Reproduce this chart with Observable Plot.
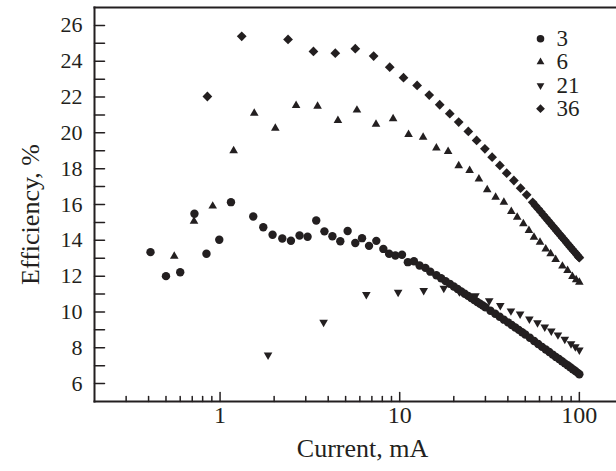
<!DOCTYPE html>
<html>
<head>
<meta charset="utf-8">
<script src="https://cdn.jsdelivr.net/npm/d3@7"></script>
<script src="https://cdn.jsdelivr.net/npm/@observablehq/plot@0.6"></script>
<style>
  html, body { margin: 0; padding: 0; background: #fff; }
  #chart { width: 616px; height: 471px; overflow: hidden; }
</style>
</head>
<body>
<div id="chart"></div>
<script>
// ---- data ----
const seriesNames = ["3", "6", "21", "36"];

const current3 = [0.41, 0.50, 0.60, 0.72, 0.84, 0.99, 1.15, 1.53, 1.74, 1.96, 2.22, 2.48, 2.77, 3.07, 3.43, 3.81, 4.22, 4.67, 5.13, 5.66, 6.17, 6.75, 7.41, 8.11, 8.73, 9.46, 10.3, 11.1, 12.0, 12.9, 13.9, 14.8, 16, 17, 18, 19, 20, 21, 22, 23, 24, 25, 26, 27, 28, 29, 30, 32, 34, 36, 38, 40, 42, 44, 46, 48, 50, 53, 56, 59, 62, 65, 68, 71, 74, 77, 80, 83, 86, 89, 92, 95, 98, 100];
const eff3 = [13.34, 12.0, 12.22, 15.48, 13.25, 14.03, 16.13, 15.33, 14.73, 14.31, 14.10, 13.98, 14.27, 14.20, 15.11, 14.50, 14.23, 13.95, 14.52, 13.85, 14.12, 13.69, 13.97, 13.52, 13.25, 13.15, 13.19, 12.78, 12.83, 12.59, 12.46, 12.25, 12.05, 11.88, 11.72, 11.57, 11.42, 11.28, 11.15, 11.02, 10.90, 10.78, 10.67, 10.56, 10.46, 10.36, 10.26, 10.07, 9.90, 9.73, 9.57, 9.42, 9.27, 9.13, 9.00, 8.87, 8.74, 8.56, 8.38, 8.21, 8.05, 7.90, 7.76, 7.62, 7.49, 7.37, 7.25, 7.13, 7.02, 6.91, 6.80, 6.70, 6.60, 6.52];

const current6 = [0.556, 0.716, 0.91, 1.19, 1.55, 2.03, 2.65, 3.49, 4.53, 5.78, 7.38, 9.19, 11.2, 13.5, 16.0, 18.6, 21.3, 24.5, 27.6, 30.7, 34.2, 38.0, 41.8, 45.1, 48.8, 52.4, 55.9, 60.4, 65.0, 69.2, 73.8, 80.5, 86, 91.5, 96, 100];
const eff6 = [13.11, 15.07, 15.91, 19.0, 21.10, 20.26, 21.53, 21.49, 20.69, 21.27, 20.48, 20.79, 19.91, 19.76, 19.15, 18.96, 18.16, 17.90, 17.43, 16.82, 16.41, 16.13, 15.61, 15.29, 14.92, 14.55, 14.17, 13.89, 13.52, 13.25, 12.93, 12.56, 12.31, 11.98, 11.80, 11.66];

const current21 = [1.85, 3.77, 6.52, 9.8, 13.6, 17.6, 21.5, 26.4, 31.5, 36.3, 41.6, 46.8, 52.7, 58.5, 64.2, 69.8, 76, 83, 89.9, 95, 100];
const eff21 = [7.60, 9.42, 10.97, 11.10, 11.20, 11.32, 11.12, 10.90, 10.62, 10.36, 10.06, 9.89, 9.61, 9.40, 9.16, 8.94, 8.72, 8.48, 8.22, 8.06, 7.88];

const current36 = [0.85, 1.32, 2.39, 3.31, 4.38, 5.66, 7.16, 8.80, 10.5, 12.5, 14.6, 16.7, 19.0, 21.3, 24.1, 26.8, 29.8, 32.7, 36.1, 39.4, 43.2, 47.1, 50.9, 55, 57, 59, 61, 63, 65, 67, 69, 71, 73, 75, 77, 79, 81, 83, 85, 87, 89, 91, 93, 95, 97, 99, 100];
const eff36 = [22.03, 25.39, 25.22, 24.55, 24.45, 24.70, 24.29, 23.67, 23.08, 22.65, 22.11, 21.57, 21.07, 20.60, 20.08, 19.58, 19.11, 18.64, 18.18, 17.75, 17.34, 16.91, 16.54, 16.12, 15.93, 15.76, 15.59, 15.42, 15.26, 15.10, 14.95, 14.80, 14.66, 14.52, 14.38, 14.25, 14.12, 14.00, 13.87, 13.75, 13.63, 13.52, 13.41, 13.30, 13.19, 13.08, 13.03];

const yLabelTicks = [6, 8, 10, 12, 14, 16, 18, 20, 22, 24, 26];
const yAllTicks = [6, 7, 8, 9, 10, 11, 12, 13, 14, 15, 16, 17, 18, 19, 20, 21, 22, 23, 24, 25, 26];
const xMajorTicks = [1, 10, 100];
const xMinorTicks = [0.3, 0.4, 0.5, 0.6, 0.7, 0.8, 0.9, 2, 3, 4, 5, 6, 7, 8, 9, 20, 30, 40, 50, 60, 70, 80, 90];
const xTitle = "Current, mA";
const yTitle = "Efficiency, %";

// ---- styling ----
const ink = "#231f20";
const font = "'Liberation Serif', 'Times New Roman', serif";

const triangleDown = {
  draw(context, size) {
    const y = Math.sqrt(size / (Math.sqrt(3) * 3));
    context.moveTo(0, 2 * y);
    context.lineTo(Math.sqrt(3) * y, -y);
    context.lineTo(-Math.sqrt(3) * y, -y);
    context.closePath();
  }
};
// plain line shape for tick vectors
const tickLine = {
  draw(context, l) {
    context.moveTo(0, 0);
    context.lineTo(0, -l);
  }
};

const toRows = (xs, ys) => xs.map((x, i) => ({x, y: ys[i]}));
const series = [
  {name: seriesNames[0], rows: toRows(current3, eff3), symbol: "circle", r: 4.2},
  {name: seriesNames[1], rows: toRows(current6, eff6), symbol: "triangle", r: 3.2},
  {name: seriesNames[2], rows: toRows(current21, eff21), symbol: triangleDown, r: 3.2},
  {name: seriesNames[3], rows: toRows(current36, eff36), symbol: "diamond2", r: 4.4}
];

const marks = [];
// frame lines (left, top, bottom)
marks.push(Plot.frame({anchor: "left", stroke: ink, strokeWidth: 2}));
marks.push(Plot.frame({anchor: "top", stroke: ink, strokeWidth: 2}));
marks.push(Plot.frame({anchor: "bottom", stroke: ink, strokeWidth: 2}));

// inward ticks drawn as line vectors anchored on the frame
marks.push(Plot.vector(yAllTicks, {y: d => d, frameAnchor: "left", length: 10, rotate: 90, anchor: "start", shape: tickLine, stroke: ink, strokeWidth: 1.5}));
marks.push(Plot.vector(xMajorTicks, {x: d => d, frameAnchor: "bottom", length: 9, rotate: 0, anchor: "start", shape: tickLine, stroke: ink, strokeWidth: 1.5}));
marks.push(Plot.vector(xMinorTicks, {x: d => d, frameAnchor: "bottom", length: 5, rotate: 0, anchor: "start", shape: tickLine, stroke: ink, strokeWidth: 1.5}));

// tick labels
marks.push(Plot.axisY(yLabelTicks, {anchor: "left", tickSize: 0, tickPadding: 12, fontSize: 22, fill: ink, label: null}));
marks.push(Plot.axisX(xMajorTicks, {anchor: "bottom", tickSize: 0, tickPadding: 4, fontSize: 24, fill: ink, tickFormat: d => String(d), label: null}));

// titles
marks.push(Plot.text([xTitle], {frameAnchor: "bottom", dx: 7, dy: 47, text: d => d, textAnchor: "middle", lineAnchor: "middle", fontSize: 26, fill: ink}));
marks.push(Plot.text([yTitle], {frameAnchor: "left", dx: -64, dy: 10, rotate: -90, text: d => d, textAnchor: "middle", lineAnchor: "middle", fontSize: 26, fill: ink}));

// data
for (const s of series) {
  marks.push(Plot.dot(s.rows, {x: "x", y: "y", symbol: s.symbol, r: s.r, fill: ink, stroke: "none"}));
}

// legend
series.forEach((s, i) => {
  marks.push(Plot.dot([s.name], {frameAnchor: "top-right", dx: -76, dy: 31.3 + i * 23.3, symbol: s.symbol, r: s.r * 0.9, fill: ink, stroke: "none"}));
  marks.push(Plot.text([s.name], {frameAnchor: "top-right", dx: -60, dy: 31.3 + i * 23.3, text: d => d, textAnchor: "start", lineAnchor: "middle", fontSize: 23, fill: ink}));
});

const chart = Plot.plot({
  width: 616,
  height: 471,
  marginLeft: 94,
  marginRight: 0,
  marginTop: 7,
  marginBottom: 70,
  style: {fontFamily: font, fontSize: "20px", color: ink, background: "#fff"},
  x: {type: "log", domain: [0.2, 161], label: null},
  y: {domain: [5, 27], label: null},
  marks
});
document.getElementById("chart").appendChild(chart);
</script>
</body>
</html>
